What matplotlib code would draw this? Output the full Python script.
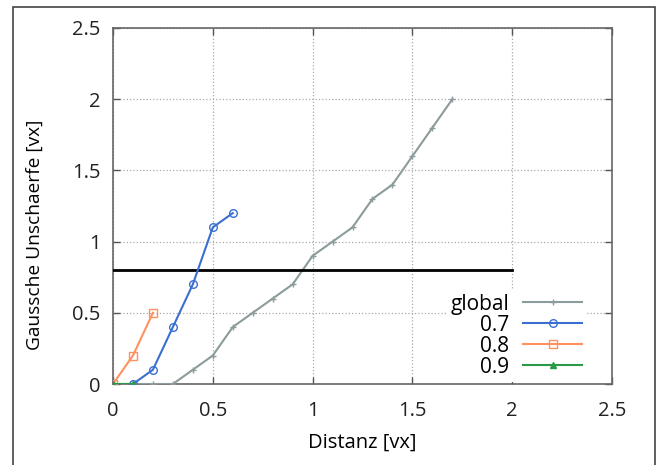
import numpy as np
import matplotlib
matplotlib.use("Agg")
import matplotlib.pyplot as plt
from matplotlib.patches import Rectangle

# data
global_x = [0.0, 0.1, 0.2, 0.3, 0.4, 0.5, 0.6, 0.7, 0.8, 0.9, 1.0, 1.1, 1.2, 1.3, 1.4, 1.5, 1.6, 1.7]
global_y = [0.0, 0.0, 0.0, 0.0, 0.1, 0.2, 0.4, 0.5, 0.6, 0.7, 0.9, 1.0, 1.1, 1.3, 1.4, 1.6, 1.8, 2.0]
s07_x = [0.1, 0.2, 0.3, 0.4, 0.5, 0.6]
s07_y = [0.0, 0.1, 0.4, 0.7, 1.1, 1.2]
s08_x = [0.0, 0.1, 0.2]
s08_y = [0.0, 0.2, 0.5]
s09_x = [0.0, 0.1]
s09_y = [0.0, 0.0]
threshold = 0.8
threshold_x = [0.0, 2.0]
ticks = [0, 0.5, 1, 1.5, 2, 2.5]
tick_labels = ["0", "0.5", "1", "1.5", "2", "2.5"]

plt.rcParams['font.family'] = ['Open Sans', 'DejaVu Sans']

fig = plt.figure(figsize=(6.6, 4.65), dpi=100)
ax = fig.add_axes([113/660, 1-384/465, (612-113)/660, (384-28)/465])

# outer frame around the figure
fig.patches.append(Rectangle((13/660, -0.05), (655-13)/660, 1.05-7/465,
                             transform=fig.transFigure, fill=False,
                             edgecolor='#444444', linewidth=1.2))

ax.plot(global_x, global_y, color='#8c9b9b', marker='+', markersize=5,
        linewidth=1.5, label='global', zorder=3)
ax.plot(s07_x, s07_y, color='#3a6fd0', marker='o', markersize=5.5,
        markerfacecolor='none', linewidth=1.5, label='0.7', zorder=4)
ax.plot(s08_x, s08_y, color='#ff9060', marker='s', markersize=5.5,
        markerfacecolor='none', linewidth=1.5, label='0.8', zorder=4)
ax.plot(s09_x, s09_y, color='#2a9a48', marker='^', markersize=5,
        linewidth=1.5, label='0.9', zorder=5)
ax.plot(threshold_x, [threshold, threshold], color='black', linewidth=2, zorder=3)

ax.set_xlim(0, 2.5)
ax.set_ylim(0, 2.5)
ax.set_xticks(ticks)
ax.set_xticklabels(tick_labels)
ax.set_yticks(ticks)
ax.set_yticklabels(tick_labels)
ax.tick_params(direction='in', length=5, width=1, color='#555555',
               top=True, right=True, labelsize=14.5, labelcolor='#222222')
ax.tick_params(axis='x', pad=12)
ax.tick_params(axis='y', pad=9)
ax.grid(True, color='#aaaaaa', linestyle=':', linewidth=0.9, zorder=0)
ax.set_axisbelow(True)
for sp in ax.spines.values():
    sp.set_color('#666666')
    sp.set_linewidth(1.2)

ax.set_xlabel('Distanz [vx]', fontsize=14.5)
ax.set_ylabel('Gaussche Unschaerfe [vx]', fontsize=13.8)
ax.xaxis.set_label_coords(0.5, -0.138)
ax.yaxis.set_label_coords(-0.138, 0.42)

leg = ax.legend(loc='lower right', bbox_to_anchor=(0.953, 0.0), markerfirst=False,
                numpoints=1, handlelength=2.85, handletextpad=0.65, labelspacing=0.0,
                fontsize=15, frameon=True, framealpha=1, edgecolor='none',
                borderpad=0.2, borderaxespad=0.1)
leg.get_frame().set_facecolor('white')

fig.savefig('out.png', dpi=100)
